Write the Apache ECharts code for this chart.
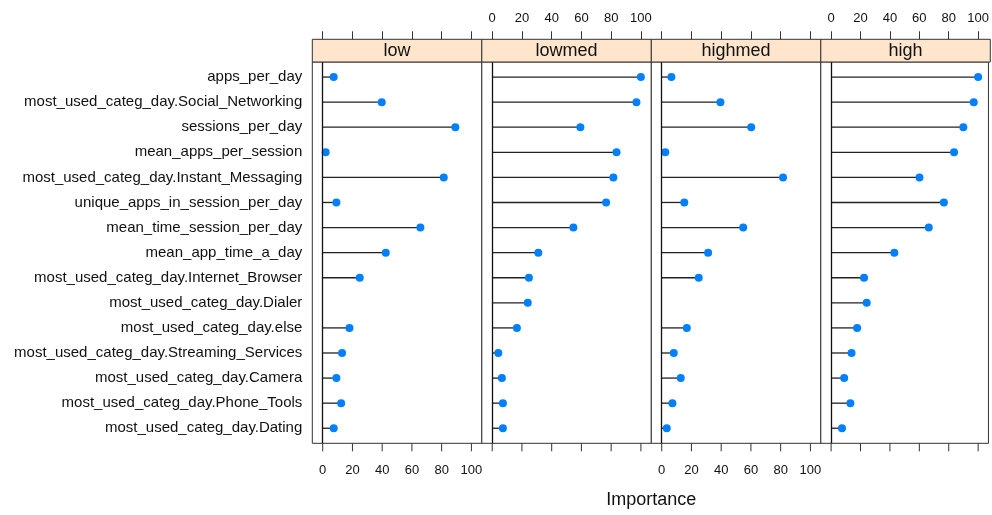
<!DOCTYPE html>
<html>
<head>
<meta charset="utf-8">
<script src="https://cdn.jsdelivr.net/npm/echarts@6/dist/echarts.min.js"></script>
<style>
  html, body { margin: 0; padding: 0; background: #fff; }
  #chart { width: 992px; height: 515px; }
</style>
</head>
<body>
<div id="chart"></div>
<script>
// Variable importance per class, one panel per class
const categories = [
  'apps_per_day',
  'most_used_categ_day.Social_Networking',
  'sessions_per_day',
  'mean_apps_per_session',
  'most_used_categ_day.Instant_Messaging',
  'unique_apps_in_session_per_day',
  'mean_time_session_per_day',
  'mean_app_time_a_day',
  'most_used_categ_day.Internet_Browser',
  'most_used_categ_day.Dialer',
  'most_used_categ_day.else',
  'most_used_categ_day.Streaming_Services',
  'most_used_categ_day.Camera',
  'most_used_categ_day.Phone_Tools',
  'most_used_categ_day.Dating'
];
const panelNames = ['low', 'lowmed', 'highmed', 'high'];
const lowValues     = [7.4, 39.7, 89.2, 2.0, 81.4, 9.2, 65.7, 42.4, 24.9, null, 18.0, 13.0, 9.2, 12.4, 7.4];
const lowmedValues  = [100, 97.0, 59.3, 83.6, 81.5, 76.6, 54.6, 31.0, 24.7, 23.9, 16.6, 4.1, 6.5, 7.2, 7.2];
const highmedValues = [6.5, 39.5, 60.2, 2.4, 81.6, 15.2, 54.8, 31.2, 24.9, null, 16.9, 8.1, 12.8, 7.2, 3.4];
const highValues    = [100, 97.0, 89.9, 83.6, 60.1, 76.7, 66.4, 43.0, 22.4, 24.2, 17.7, 13.9, 8.9, 13.1, 7.4];
const tickValues = [0, 20, 40, 60, 80, 100];

const panelValues = [lowValues, lowmedValues, highmedValues, highValues];

const FONT = "'Liberation Sans', Arial, sans-serif";
const INK = '#333333';
const PANEL_LEFT = 312.3;
const PANEL_W = 169.5;
const PANEL_TOP = 62;
const PANEL_H = 381.3;
const STRIP_H = 22.7;
const TICK_LEN = 8;
const N = categories.length;
const Y_MIN = -0.6;
const Y_MAX = N - 0.4;

// rows are stacked from the top: row i sits at level N - 1 - i
const rowLevel = i => N - 1 - i;

const chart = echarts.init(document.getElementById('chart'), null, { renderer: 'canvas' });

const grids = [], xAxes = [], yAxes = [], series = [], graphics = [];

panelNames.forEach((name, p) => {
  const left = PANEL_LEFT + p * PANEL_W;
  grids.push({
    left: left, top: PANEL_TOP, width: PANEL_W, height: PANEL_H,
    show: true, borderColor: INK, borderWidth: 1, backgroundColor: '#fff'
  });
  // labels alternate: bottom for panels 0 and 2, top for panels 1 and 3
  const labelsBottom = p % 2 === 0;
  xAxes.push({
    type: 'value', gridIndex: p, min: -7, max: 107, position: 'bottom',
    splitLine: { show: false },
    axisLine: { show: false, onZero: false },
    axisTick: { show: false },
    axisLabel: { show: labelsBottom, customValues: tickValues.slice(), margin: 21, color: '#111', fontFamily: FONT, fontSize: 13 }
  });
  xAxes.push({
    type: 'value', gridIndex: p, min: -7, max: 107, position: 'top', offset: STRIP_H,
    splitLine: { show: false },
    axisLine: { show: false, onZero: false },
    axisTick: { show: true, inside: false, length: TICK_LEN, customValues: tickValues.slice(), lineStyle: { color: INK, width: 1 } },
    axisLabel: { show: !labelsBottom, customValues: tickValues.slice(), margin: 14, color: '#111', fontFamily: FONT, fontSize: 13 }
  });
  yAxes.push({
    type: 'value', gridIndex: p, min: Y_MIN, max: Y_MAX,
    splitLine: { show: false }, axisLine: { show: false, onZero: false },
    axisTick: { show: false },
    axisLabel: {
      show: p === 0,
      customValues: categories.map((c, i) => rowLevel(i)),
      formatter: v => categories[N - 1 - Math.round(v)] || '',
      margin: 10, color: '#111', fontFamily: FONT, fontSize: 15
    }
  });

  // outward ticks under the panel, placed through the panel's own x scale
  series.push({
    type: 'custom', xAxisIndex: p * 2, yAxisIndex: p, silent: true, clip: false,
    data: tickValues.map(v => [v, Y_MIN]),
    renderItem: (params, api) => {
      const a = api.coord([api.value(0), api.value(1)]);
      return {
        type: 'line',
        shape: { x1: a[0], y1: a[1], x2: a[0], y2: a[1] + TICK_LEN },
        style: { stroke: INK, lineWidth: 1 }
      };
    },
    z: 1
  });

  const pts = [];
  panelValues[p].forEach((v, i) => { if (v !== null) pts.push([v, rowLevel(i)]); });

  // stems from zero to each importance value
  series.push({
    type: 'custom', xAxisIndex: p * 2, yAxisIndex: p, silent: true,
    data: pts,
    renderItem: (params, api) => {
      const a = api.coord([0, api.value(1)]);
      const b = api.coord([api.value(0), api.value(1)]);
      return {
        type: 'line',
        shape: { x1: a[0], y1: a[1], x2: b[0], y2: b[1] },
        style: { stroke: '#222', lineWidth: 1.3 }
      };
    },
    markLine: {
      silent: true, symbol: 'none', label: { show: false },
      lineStyle: { color: '#111', width: 1.3, type: 'solid' },
      data: [{ xAxis: 0 }]
    },
    z: 2
  });
  series.push({
    type: 'scatter', xAxisIndex: p * 2, yAxisIndex: p, silent: true,
    data: pts, symbol: 'circle', symbolSize: 8,
    itemStyle: { color: '#0080ff', opacity: 1 }, z: 3
  });

  // strip with class name above each panel
  graphics.push({
    type: 'rect', shape: { x: left, y: PANEL_TOP - STRIP_H, width: PANEL_W, height: STRIP_H },
    style: { fill: '#ffe5cc', stroke: INK, lineWidth: 1 }, z: 10
  });
  graphics.push({
    type: 'text', x: left + PANEL_W / 2, y: PANEL_TOP - STRIP_H / 2,
    style: { text: name, fill: '#111', font: "18px " + FONT, textAlign: 'center', textVerticalAlign: 'middle' }, z: 11
  });
});

graphics.push({
  type: 'text', x: PANEL_LEFT + PANEL_W * 2, y: 500,
  style: { text: 'Importance', fill: '#111', font: "18px " + FONT, textAlign: 'center', textVerticalAlign: 'middle' }
});

chart.setOption({
  animation: false,
  backgroundColor: '#fff',
  grid: grids,
  xAxis: xAxes,
  yAxis: yAxes,
  series: series,
  graphic: graphics
});
</script>
</body>
</html>
